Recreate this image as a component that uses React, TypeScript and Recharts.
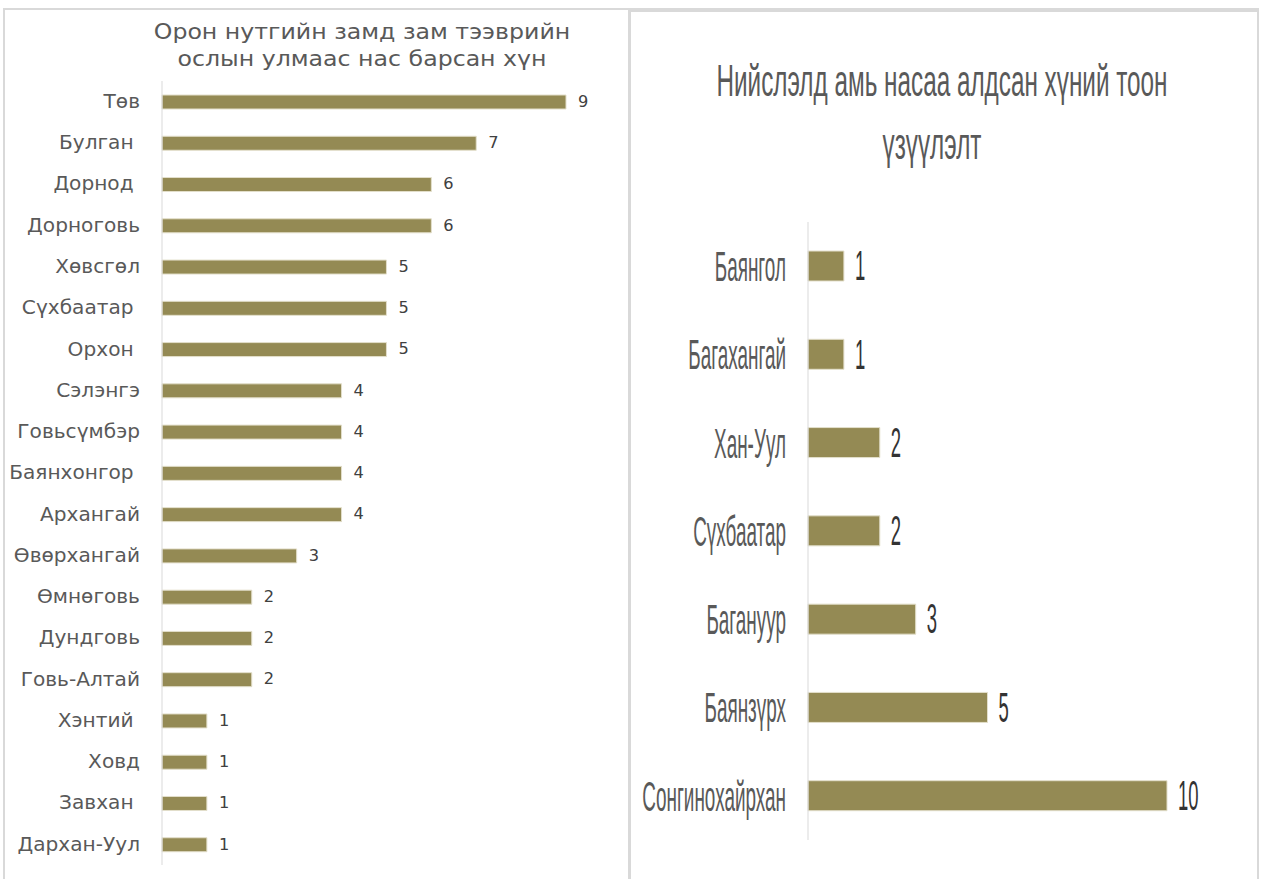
import React from 'react';
import { BarChart, Bar, XAxis, YAxis, LabelList } from 'recharts';

// Орон нутаг (left panel)
const ruralAimags = [
  'Төв', 'Булган ', 'Дорнод ', 'Дорноговь', 'Хөвсгөл', 'Сүхбаатар ', 'Орхон ',
  'Сэлэнгэ', 'Говьсүмбэр', 'Баянхонгор ', 'Архангай', 'Өвөрхангай', 'Өмнөговь',
  'Дундговь', 'Говь-Алтай', 'Хэнтий ', 'Ховд', 'Завхан ', 'Дархан-Уул',
];
const ruralDeaths = [9, 7, 6, 6, 5, 5, 5, 4, 4, 4, 4, 3, 2, 2, 2, 1, 1, 1, 1];

// Нийслэл (right panel)
const cityDistricts = ['Баянгол', 'Багахангай', 'Хан-Уул', 'Сүхбаатар', 'Багануур', 'Баянзүрх', 'Сонгинохайрхан'];
const cityDeaths = [1, 1, 2, 2, 3, 5, 10];

const leftTitle = ['Орон нутгийн замд зам тээврийн', 'ослын улмаас нас барсан хүн'];
const rightTitle = ['Нийслэлд амь насаа алдсан хүний тоон', 'үзүүлэлт'];

const BAR = '#948A54';
const BAR_EDGE = '#E3DFCB';
const VERDANA = '"DejaVu Sans", Verdana, sans-serif';
const NARROW = '"Liberation Sans", Arial, sans-serif';

const ruralData = ruralAimags.map((name, i) => ({ name, value: ruralDeaths[i] }));
const cityData = cityDistricts.map((name, i) => ({ name, value: cityDeaths[i] }));

// text squeezed/stretched horizontally around its anchor
function ScaledText({ x, y, sx, size, family, fill, anchor, children }: any) {
  return (
    <text
      transform={`translate(${x},${y}) scale(${sx},1)`}
      textAnchor={anchor}
      dominantBaseline="central"
      fontFamily={family}
      fontSize={size}
      fill={fill}
      style={{ whiteSpace: 'pre' }}
    >
      {children}
    </text>
  );
}

const LeftTick = ({ x, y, payload }: any) => (
  <ScaledText x={x} y={y} sx={1.06} size={19} family={VERDANA} fill="#595959" anchor="end">
    {payload.value}
  </ScaledText>
);

const RightTick = ({ x, y, payload }: any) => (
  <ScaledText x={x} y={y} sx={0.44} size={43} family={NARROW} fill="#595959" anchor="end">
    {payload.value}
  </ScaledText>
);

const leftValue = (p: any) => (
  <ScaledText x={p.x + p.width + 12} y={p.y + p.height / 2} sx={1.08} size={15} family={VERDANA} fill="#404040" anchor="start">
    {p.value}
  </ScaledText>
);

const rightValue = (p: any) => (
  <ScaledText x={p.x + p.width + 11} y={p.y + p.height / 2} sx={0.44} size={42} family={NARROW} fill="#333333" anchor="start">
    {p.value}
  </ScaledText>
);

export default function App() {
  return (
    <div style={{ position: 'fixed', left: 0, top: 0, width: 1265, height: 879, background: '#fff', overflow: 'hidden' }}>
      {/* panel frames */}
      <div style={{ position: 'absolute', left: 3, top: 8, width: 627, height: 900, border: '2px solid #d9d9d9', boxSizing: 'border-box' }} />
      <div style={{ position: 'absolute', left: 629, top: 8, width: 630, height: 900, border: '2px solid #d9d9d9', borderTopWidth: 4, boxSizing: 'border-box' }} />

      <div style={{ position: 'absolute', left: 0, top: 0 }}>
        <BarChart width={625} height={879} data={ruralData} layout="vertical"
          margin={{ top: 81, right: 59, bottom: 14, left: 0 }}>
          <XAxis type="number" domain={[0, 9]} hide />
          <YAxis type="category" dataKey="name" width={162} tickSize={0} tickMargin={22}
            axisLine={{ stroke: '#d9d9d9' }} tickLine={false} tick={<LeftTick />} interval={0} />
          <Bar dataKey="value" fill={BAR} stroke={BAR_EDGE} strokeWidth={1} barSize={14} isAnimationActive={false}>
            <LabelList dataKey="value" content={leftValue} />
          </Bar>
        </BarChart>
      </div>

      <div style={{ position: 'absolute', left: 628, top: 0 }}>
        <BarChart width={637} height={879} data={cityData} layout="vertical"
          margin={{ top: 222, right: 98, bottom: 39, left: 0 }}>
          <XAxis type="number" domain={[0, 10]} hide />
          <YAxis type="category" dataKey="name" width={180} tickSize={0} tickMargin={22}
            axisLine={{ stroke: '#d9d9d9' }} tickLine={false} tick={<RightTick />} interval={0} />
          <Bar dataKey="value" fill={BAR} stroke={BAR_EDGE} strokeWidth={1} barSize={30} isAnimationActive={false}>
            <LabelList dataKey="value" content={rightValue} />
          </Bar>
        </BarChart>
      </div>

      {/* titles */}
      <svg width={1265} height={879} style={{ position: 'absolute', left: 0, top: 0, pointerEvents: 'none' }}>
        <ScaledText x={362} y={31} sx={1.1} size={21.5} family={VERDANA} fill="#595959" anchor="middle">{leftTitle[0]}</ScaledText>
        <ScaledText x={362} y={58} sx={1.1} size={21.5} family={VERDANA} fill="#595959" anchor="middle">{leftTitle[1]}</ScaledText>
        <ScaledText x={942} y={80} sx={0.54} size={45} family={NARROW} fill="#595959" anchor="middle">{rightTitle[0]}</ScaledText>
        <ScaledText x={932} y={143} sx={0.54} size={45} family={NARROW} fill="#595959" anchor="middle">{rightTitle[1]}</ScaledText>
      </svg>
    </div>
  );
}
